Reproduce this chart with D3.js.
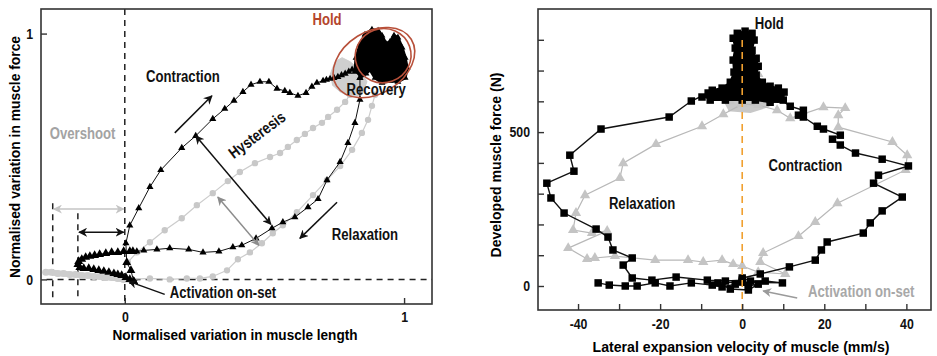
<!DOCTYPE html>
<html>
<head>
<meta charset="utf-8">
<script src="https://cdn.jsdelivr.net/npm/d3@7/dist/d3.min.js"></script>
<style>
  body { margin: 0; background: #fff; }
  svg text { font-family: "Liberation Sans", Arial, sans-serif; font-weight: bold; }
</style>
</head>
<body>
<svg id="chart" width="937" height="356"></svg>
<script>
// ---------- left panel: normalised length (x) vs normalised force (y) ----------
const leftXTicks = [0, 1];
const leftYTicks = [0, 1];

// black triangles, contraction branch (from activation on-set up to hold)
const blackContraction = [
  [0.032, -0.008], [0.022, 0.037], [0.007, 0.069], [0.004, 0.147], [0.018, 0.220],
  [0.050, 0.290], [0.090, 0.376], [0.129, 0.445], [0.204, 0.535], [0.254, 0.584],
  [0.315, 0.653], [0.358, 0.694], [0.391, 0.727], [0.423, 0.763], [0.452, 0.792],
  [0.484, 0.804], [0.516, 0.804], [0.545, 0.776], [0.573, 0.767], [0.591, 0.759],
  [0.620, 0.747], [0.649, 0.759], [0.670, 0.784], [0.688, 0.800], [0.710, 0.808],
  [0.722, 0.812], [0.735, 0.816], [0.749, 0.820], [0.763, 0.824], [0.776, 0.831],
  [0.789, 0.837], [0.802, 0.845], [0.814, 0.853], [0.828, 0.855]
];
// black hold cloud outline
const blackHoldLeft = [
  [0.824, 0.845], [0.828, 0.902], [0.842, 0.955], [0.860, 0.996], [0.885, 1.016],
  [0.907, 1.012], [0.921, 0.992], [0.935, 0.959], [0.950, 0.967], [0.964, 0.992],
  [0.978, 0.984], [0.993, 0.943], [1.004, 0.902], [1.011, 0.861], [1.004, 0.820],
  [0.978, 0.804], [0.950, 0.808], [0.921, 0.800], [0.896, 0.820], [0.878, 0.853],
  [0.864, 0.837], [0.842, 0.820]
];
// black triangles, relaxation branch (hold back to the start cloud)
const blackRelaxation = [
  [0.842, 0.820], [0.842, 0.731], [0.824, 0.637], [0.799, 0.555], [0.771, 0.478],
  [0.724, 0.404], [0.692, 0.327], [0.656, 0.294], [0.609, 0.253], [0.566, 0.233],
  [0.527, 0.208], [0.470, 0.167], [0.419, 0.139], [0.387, 0.131], [0.337, 0.114],
  [0.280, 0.110], [0.229, 0.122], [0.161, 0.127], [0.115, 0.122], [0.068, 0.118],
  [0.043, 0.114], [0.029, 0.114], [0.018, 0.114], [-0.004, 0.114], [-0.025, 0.110],
  [-0.047, 0.110], [-0.068, 0.106], [-0.090, 0.102], [-0.108, 0.098], [-0.125, 0.094],
  [-0.140, 0.090], [-0.154, 0.082], [-0.165, 0.073], [-0.168, 0.061], [-0.161, 0.049],
  [-0.147, 0.045], [-0.129, 0.045], [-0.111, 0.041], [-0.093, 0.037], [-0.075, 0.033],
  [-0.057, 0.029], [-0.039, 0.024], [-0.025, 0.020], [-0.011, 0.016], [0.004, 0.008],
  [0.018, 0.000], [0.032, -0.008]
];
// grey circles: overshoot band, lower (relaxation) and upper (contraction) branches
const greyOvershoot = [
  [-0.283, 0.029], [-0.262, 0.029], [-0.240, 0.024], [-0.219, 0.024], [-0.197, 0.020],
  [-0.176, 0.020], [-0.154, 0.016], [-0.133, 0.016], [-0.111, 0.012], [-0.090, 0.012],
  [-0.068, 0.008], [-0.047, 0.008], [-0.025, 0.004], [-0.004, 0.000]
];
const greyLower = [
  [0.011, 0.000], [0.090, 0.004], [0.161, 0.000], [0.222, 0.004], [0.269, 0.004],
  [0.315, 0.012], [0.366, 0.037], [0.405, 0.082], [0.448, 0.110], [0.491, 0.147],
  [0.530, 0.188], [0.566, 0.220], [0.616, 0.273], [0.674, 0.343], [0.724, 0.404],
  [0.771, 0.461], [0.814, 0.527], [0.849, 0.596], [0.871, 0.649], [0.885, 0.706],
  [0.896, 0.751]
];
const greyUpper = [
  [0.011, 0.069], [0.043, 0.110], [0.090, 0.151], [0.143, 0.200], [0.204, 0.249],
  [0.258, 0.302], [0.315, 0.351], [0.369, 0.400], [0.412, 0.437], [0.466, 0.473],
  [0.520, 0.498], [0.556, 0.514], [0.584, 0.539], [0.616, 0.567], [0.645, 0.592],
  [0.674, 0.616], [0.706, 0.637], [0.728, 0.661], [0.760, 0.690], [0.789, 0.722],
  [0.806, 0.751], [0.824, 0.780]
];
const greyRecovery = [
  [0.735, 0.833], [0.753, 0.886], [0.778, 0.902], [0.806, 0.886], [0.842, 0.853],
  [0.867, 0.804], [0.849, 0.751], [0.806, 0.743], [0.771, 0.763], [0.742, 0.792]
];

// ---------- right panel: lateral velocity (x) vs force (y) ----------
const rightXTicks = [-40, -30, -20, -10, 0, 10, 20, 30, 40];
const rightXLabels = [-40, -20, 0, 20, 40];
const rightYTicks = [0, 100, 200, 300, 400, 500, 600, 700, 800];
const rightYLabels = [0, 500];

// black squares, on-set and contraction branch
const squaresContraction = [
  [-35.1, 10], [-32.4, 3], [-28.5, 0], [-25.6, 0], [-21.2, 10], [-17.6, 0],
  [-12.4, 10], [-7.3, 3], [-4.9, -3], [-1.7, 6], [1.5, 0], [3.9, 6], [1.5, -13],
  [-2.9, -10], [-5.9, 10], [0, 13], [9.8, 10], [5.6, 16], [2.0, 16], [0, 26],
  [4.4, 39], [11.5, 62], [17.8, 84], [19.3, 117], [20.7, 143], [29.5, 172],
  [31.2, 205], [34.1, 244], [39.0, 289], [32.0, 334], [33.2, 360], [40.5, 390],
  [34.1, 412], [27.6, 432], [23.9, 458], [22.0, 477], [23.9, 490], [19.8, 510],
  [18.3, 519], [14.9, 549], [13.7, 555], [14.9, 571], [11.7, 584], [9.3, 607],
  [8.0, 607], [4.4, 617]
];
// black squares, relaxation branch
const squaresRelaxation = [
  [-4.1, 620], [-8.3, 627], [-12.4, 601], [-17.8, 549], [-34.4, 510], [-42.0, 425],
  [-41.0, 373], [-47.6, 334], [-46.6, 286], [-43.4, 237], [-35.6, 185], [-32.7, 159],
  [-31.5, 117], [-26.8, 91], [-29.0, 68], [-26.8, 26], [-22.0, 19], [-16.1, 29],
  [-8.5, 19], [-4.1, 16], [0, 19]
];
// black hold plume outline
const squaresHold = [
  [-9.8, 614], [-7.3, 636], [-4.9, 643], [-2.9, 662], [-2.0, 695], [-2.2, 734],
  [-1.7, 773], [-2.2, 805], [-1.2, 821], [0.7, 828], [2.4, 821], [2.9, 799],
  [2.4, 766], [3.4, 740], [3.9, 714], [3.4, 685], [4.9, 662], [6.8, 649],
  [8.8, 643], [10.2, 630], [10.0, 604], [6.8, 597], [3.2, 604], [0, 604],
  [-4.1, 604], [-7.8, 604]
];
// grey triangles, full loop
const greyTriangles = [
  [0, 591], [-4.6, 558], [-9.8, 519], [-21.0, 461], [-29.0, 399], [-29.8, 351],
  [-38.3, 295], [-40.5, 237], [-41.2, 182], [-36.6, 172], [-32.9, 179], [-42.4, 123],
  [-37.8, 88], [-35.9, 91], [-31.0, 97], [-21.2, 84], [-13.2, 84], [-9.5, 78],
  [-4.9, 84], [-2.2, 71], [0, 65], [3.9, 45], [10.5, 39], [4.4, 78], [5.1, 107],
  [13.7, 162], [17.8, 208], [23.2, 269], [39.8, 377], [40.2, 425], [36.6, 468],
  [23.4, 516], [23.4, 555], [25.1, 578], [19.8, 581], [11.7, 545], [8.5, 571],
  [3.9, 588], [0, 591]
];
const greyHold = [[-4.9, 610], [4.9, 610], [6.3, 584], [2.0, 565], [-3.4, 571]];
const greyHoldExtra = [[3.9, 689], [-3.0, 600], [5.5, 600]];

// ---------- svg setup ----------
const svg = d3.select("#chart");
const defs = svg.append("defs");
[["arrBlack", "#111"], ["arrGrey", "#8c8c8c"], ["arrLight", "#c4c4c4"], ["arrMid", "#9a9a9a"]].forEach(([id, c]) => {
  defs.append("marker")
    .attr("id", id).attr("viewBox", "0 0 10 10")
    .attr("refX", 9).attr("refY", 5)
    .attr("markerWidth", 9).attr("markerHeight", 9)
    .attr("markerUnits", "userSpaceOnUse")
    .attr("orient", "auto-start-reverse")
    .append("path").attr("d", "M0,0 L10,5 L0,10 L3,5 Z").attr("fill", c);
});

function drawPath(g, data, x, y, stroke, width, fill) {
  g.append("path")
    .datum(data)
    .attr("d", d3.line().x(d => x(d[0])).y(d => y(d[1])))
    .attr("fill", fill || "none")
    .attr("stroke", stroke)
    .attr("stroke-width", width);
}
function drawSymbols(g, data, x, y, type, size, fill) {
  g.selectAll(null)
    .data(data)
    .enter()
    .append("path")
    .attr("d", d => d3.symbol().type(type).size(typeof size === "function" ? size(d) : size)())
    .attr("transform", d => "translate(" + x(d[0]) + "," + y(d[1]) + ")")
    .attr("fill", fill);
}
function arrow(g, x, y, a, b, color, marker, both) {
  g.append("line")
    .attr("x1", x(a[0])).attr("y1", y(a[1]))
    .attr("x2", x(b[0])).attr("y2", y(b[1]))
    .attr("stroke", color).attr("stroke-width", 1.5)
    .attr("marker-end", "url(#" + marker + ")")
    .attr("marker-start", both ? "url(#" + marker + ")" : null);
}
function label(g, x, y, t, px, py, color, opts) {
  opts = opts || {};
  const el = g.append("text")
    .attr("x", x(px)).attr("y", y(py))
    .attr("dy", "0.35em")
    .attr("text-anchor", opts.anchor || "middle")
    .attr("font-size", opts.size || 16)
    .attr("fill", color)
    .text(t);
  if (opts.rotate) el.attr("transform", "rotate(" + opts.rotate + "," + x(px) + "," + y(py) + ")");
  return el;
}

// ================= LEFT PANEL =================
const L = { left: 41, right: 432, top: 9, bottom: 304 };
const xL = d3.scaleLinear().domain([-0.3, 1.1]).range([L.left, L.right]);
const yL = d3.scaleLinear().domain([-0.1, 1.1]).range([L.bottom, L.top]);
const gL = svg.append("g");

// reference dashed lines
gL.append("line").attr("x1", xL(0)).attr("x2", xL(0)).attr("y1", L.top).attr("y2", L.bottom)
  .attr("stroke", "#222").attr("stroke-width", 1.5).attr("stroke-dasharray", "6,5");
gL.append("line").attr("x1", xL(-0.28)).attr("x2", L.right).attr("y1", yL(0)).attr("y2", yL(0))
  .attr("stroke", "#222").attr("stroke-width", 1.5).attr("stroke-dasharray", "6,5");
[[-0.258, 0.310], [-0.168, 0.269]].forEach(([vx, top]) => {
  gL.append("line").attr("x1", xL(vx)).attr("x2", xL(vx)).attr("y1", yL(top)).attr("y2", yL(-0.078))
    .attr("stroke", "#222").attr("stroke-width", 1.5).attr("stroke-dasharray", "6,5");
});

// grey series (behind)
drawPath(gL, greyRecovery, xL, yL, "#cfcfcf", 1, "#cfcfcf");
drawPath(gL, greyOvershoot, xL, yL, "#cfcfcf", 6);
drawSymbols(gL, greyOvershoot, xL, yL, d3.symbolCircle, 40, "#cdcdcd");
drawPath(gL, greyLower, xL, yL, "#cccccc", 1.2);
drawPath(gL, greyUpper, xL, yL, "#cccccc", 1.2);
drawSymbols(gL, greyLower, xL, yL, d3.symbolCircle, 32, "#c8c8c8");
drawSymbols(gL, greyUpper, xL, yL, d3.symbolCircle, 32, "#c8c8c8");

// black series (the start cloud is denser, so larger markers there)
const cloudSize = d => (d[0] < 0.04 && d[1] < 0.12 ? 34 : 22);
drawPath(gL, blackContraction, xL, yL, "#111", 1);
drawPath(gL, blackRelaxation, xL, yL, "#111", 1);
drawSymbols(gL, blackContraction, xL, yL, d3.symbolTriangle, cloudSize, "#000");
drawSymbols(gL, blackRelaxation, xL, yL, d3.symbolTriangle, cloudSize, "#000");
drawPath(gL, blackHoldLeft, xL, yL, "#000", 3, "#000");
drawSymbols(gL, blackHoldLeft, xL, yL, d3.symbolTriangle, 20, "#000");

// hold ellipses
[[0.892, 0.882, 44, 31, -32], [0.925, 0.910, 28, 27, -20]].forEach(([cx, cy, rx, ry, rot]) => {
  gL.append("ellipse")
    .attr("cx", xL(cx)).attr("cy", yL(cy)).attr("rx", rx).attr("ry", ry)
    .attr("transform", "rotate(" + rot + "," + xL(cx) + "," + yL(cy) + ")")
    .attr("fill", "none").attr("stroke", "#b8503a").attr("stroke-width", 1.6);
});

// arrows
arrow(gL, xL, yL, [0.179, 0.596], [0.312, 0.747], "#111", "arrBlack");
arrow(gL, xL, yL, [0.254, 0.584], [0.523, 0.224], "#111", "arrBlack", true);
arrow(gL, xL, yL, [0.333, 0.335], [0.480, 0.139], "#8c8c8c", "arrGrey", true);
arrow(gL, xL, yL, [0.760, 0.314], [0.627, 0.167], "#111", "arrBlack");
arrow(gL, xL, yL, [0.143, -0.061], [0.014, -0.008], "#111", "arrBlack");
arrow(gL, xL, yL, [-0.254, 0.286], [-0.004, 0.286], "#c4c4c4", "arrLight", true);
arrow(gL, xL, yL, [-0.164, 0.192], [-0.004, 0.192], "#111", "arrBlack", true);

// labels
label(gL, xL, yL, "Hold", 0.724, 1.057, "#b4452c");
label(gL, xL, yL, "Recovery", 0.900, 0.771, "#111");
label(gL, xL, yL, "Contraction", 0.208, 0.824, "#111");
label(gL, xL, yL, "Overshoot", -0.151, 0.596, "#a3a3a3");
label(gL, xL, yL, "Hysteresis", 0.473, 0.588, "#111", { rotate: -37 });
label(gL, xL, yL, "Relaxation", 0.860, 0.184, "#111");
label(gL, xL, yL, "Activation on-set", 0.161, -0.053, "#111", { anchor: "start" });

// axes
gL.append("g").attr("transform", "translate(" + L.left + ",0)")
  .call(d3.axisLeft(yL).tickValues(leftYTicks).tickSize(-6).tickPadding(8).tickFormat(d3.format("d")))
  .call(g => g.select(".domain").remove())
  .call(g => g.selectAll(".tick line").attr("x1", 0).attr("x2", 6));
gL.append("g").attr("transform", "translate(0," + L.bottom + ")")
  .call(d3.axisBottom(xL).tickValues(leftXTicks).tickSize(-6).tickPadding(7).tickFormat(d3.format("d")))
  .call(g => g.select(".domain").remove())
  .call(g => g.selectAll(".tick line").attr("y1", 0).attr("y2", -6));
gL.append("rect").attr("x", L.left).attr("y", L.top)
  .attr("width", L.right - L.left).attr("height", L.bottom - L.top)
  .attr("fill", "none").attr("stroke", "#333").attr("stroke-width", 1.6);

gL.append("text").attr("x", 235).attr("y", 340).attr("text-anchor", "middle")
  .attr("font-size", 15.5).attr("textLength", 245).attr("lengthAdjust", "spacingAndGlyphs")
  .text("Normalised variation in muscle length");
gL.append("text").attr("transform", "translate(20,157) rotate(-90)").attr("text-anchor", "middle")
  .attr("font-size", 15.5).attr("textLength", 242).attr("lengthAdjust", "spacingAndGlyphs")
  .text("Normalised variation in muscle force");

// ================= RIGHT PANEL =================
const R = { left: 538, right: 931, top: 9, bottom: 310 };
const xR = d3.scaleLinear().domain([-50, 46]).range([537, R.right]);
const yR = d3.scaleLinear().domain([-78, 900]).range([R.bottom, R.top]);
const gR = svg.append("g");

// grey triangles (behind)
drawPath(gR, greyHold, xR, yR, "#c8c8c8", 2, "#c8c8c8");
drawPath(gR, greyTriangles, xR, yR, "#b8b8b8", 1.2);
drawSymbols(gR, greyTriangles, xR, yR, d3.symbolTriangle, 46, "#c4c4c4");
drawSymbols(gR, greyHoldExtra, xR, yR, d3.symbolTriangle, 46, "#c4c4c4");

// black squares
drawPath(gR, squaresContraction, xR, yR, "#111", 1.4);
drawPath(gR, squaresRelaxation, xR, yR, "#111", 1.4);
drawSymbols(gR, squaresContraction, xR, yR, d3.symbolSquare, 56, "#000");
drawSymbols(gR, squaresRelaxation, xR, yR, d3.symbolSquare, 56, "#000");
drawPath(gR, squaresHold, xR, yR, "#000", 2, "#000");
drawSymbols(gR, squaresHold, xR, yR, d3.symbolSquare, 56, "#000");

// zero-velocity line
gR.append("line").attr("x1", xR(0)).attr("x2", xR(0)).attr("y1", yR(799)).attr("y2", R.bottom)
  .attr("stroke", "#f0a030").attr("stroke-width", 1.6).attr("stroke-dasharray", "7,5");

// labels
label(gR, xR, yR, "Hold", 6.6, 854, "#111");
label(gR, xR, yR, "Contraction", 15.4, 393, "#111");
label(gR, xR, yR, "Relaxation", -24.4, 269, "#111");
label(gR, xR, yR, "Activation on-set", 29.0, -19, "#a8a8a8");
arrow(gR, xR, yR, [13.4, -39], [5.1, -16], "#9a9a9a", "arrMid");

// axes
gR.append("g").attr("transform", "translate(" + R.left + ",0)")
  .call(d3.axisLeft(yR).tickValues(rightYTicks).tickSize(-6).tickPadding(8)
    .tickFormat(d => rightYLabels.includes(d) ? d : ""))
  .call(g => g.select(".domain").remove())
  .call(g => g.selectAll(".tick line").attr("x1", 0).attr("x2", 6));
gR.append("g").attr("transform", "translate(0," + R.bottom + ")")
  .call(d3.axisBottom(xR).tickValues(rightXTicks).tickSize(-6).tickPadding(8)
    .tickFormat(d => rightXLabels.includes(d) ? d : ""))
  .call(g => g.select(".domain").remove())
  .call(g => g.selectAll(".tick line").attr("y1", 0).attr("y2", -6));
gR.append("rect").attr("x", R.left).attr("y", R.top)
  .attr("width", R.right - R.left).attr("height", R.bottom - R.top)
  .attr("fill", "none").attr("stroke", "#333").attr("stroke-width", 1.6);

gR.append("text").attr("x", 741).attr("y", 352).attr("text-anchor", "middle")
  .attr("font-size", 15.5).attr("textLength", 297).attr("lengthAdjust", "spacingAndGlyphs")
  .text("Lateral expansion velocity of muscle (mm/s)");
gR.append("text").attr("transform", "translate(501,165) rotate(-90)").attr("text-anchor", "middle")
  .attr("font-size", 15.5).attr("textLength", 185).attr("lengthAdjust", "spacingAndGlyphs")
  .text("Developed muscle force (N)");

// tick label styling
svg.selectAll(".tick text").attr("font-size", 15).attr("fill", "#111")
  .style("font-family", "'Liberation Sans',Arial,sans-serif").style("font-weight", "bold");
svg.selectAll(".tick line").attr("stroke", "#333").attr("stroke-width", 1.4);

// the original uses a condensed face: squeeze every remaining label to ~82% width
svg.selectAll("text").each(function () {
  const t = d3.select(this);
  if (t.attr("textLength") || !t.text()) return;
  t.attr("textLength", this.getComputedTextLength() * 0.82).attr("lengthAdjust", "spacingAndGlyphs");
});
</script>
</body>
</html>
